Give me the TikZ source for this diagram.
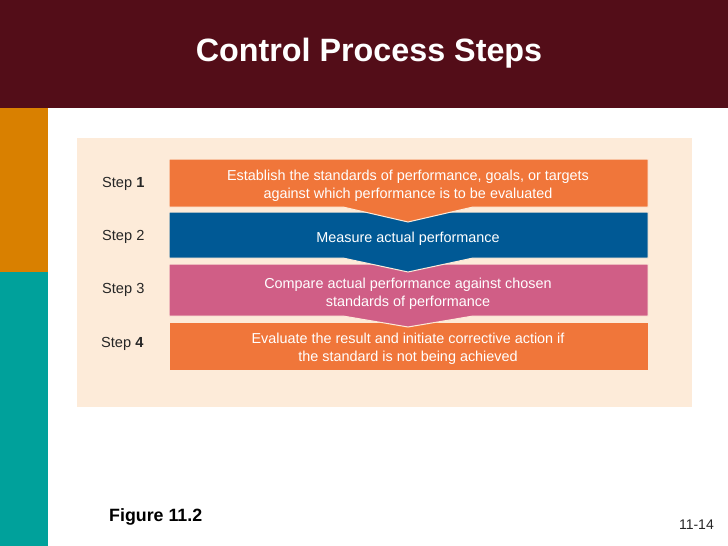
\documentclass[tikz,border=0pt]{standalone}
\usepackage{fontspec}
\setmainfont{Liberation Sans}
\definecolor{maroon}{HTML}{530D18}
\definecolor{sideorange}{HTML}{D98000}
\definecolor{sideteal}{HTML}{00A19B}
\definecolor{panel}{HTML}{FDEBD9}
\definecolor{barorange}{HTML}{F0763A}
\definecolor{barblue}{HTML}{005995}
\definecolor{barpink}{HTML}{D05E86}
\tikzset{
  barshape/.style={draw=panel, line width=1pt},
  bartext/.style={text=white, align=center, font=\fontsize{14.4}{18}\selectfont, inner sep=0pt},
  steplabel/.style={anchor=west, font=\fontsize{14.6}{17}\selectfont, inner sep=0pt, text=black!85}
}
\begin{document}
\begin{tikzpicture}[x=1pt,y=-1pt]
\useasboundingbox (0,0) rectangle (728,546);
\fill[white] (0,0) rectangle (728,546);
% header
\fill[maroon] (0,0) rectangle (728,108);
\node[text=white, font=\fontsize{32.3}{36}\selectfont\bfseries] (title) at (369,53) {Control Process Steps};
% side bars
\fill[sideorange] (0,108) rectangle (48,272);
\fill[sideteal] (0,272) rectangle (48,546);
% panel
\fill[panel] (77,138) rectangle (692,407);
% bars (bottom first)
\fill[barorange, barshape] (169,322) rectangle (648,370);
\filldraw[fill=barpink, barshape] (169,264) -- (648,264) -- (648,316) -- (473,316) -- (408,327) -- (343,316) -- (169,316) -- cycle;
\filldraw[fill=barblue, barshape] (169,212) -- (648,212) -- (648,258) -- (473,258) -- (408,272) -- (343,258) -- (169,258) -- cycle;
\filldraw[fill=barorange, barshape] (169,159) -- (648,159) -- (648,207) -- (473,207) -- (408,222) -- (343,207) -- (169,207) -- cycle;
% bar texts
\node[bartext] (b1) at (408,186) {Establish the standards of performance, goals, or targets\\against which performance is to be evaluated};
\node[bartext] (b2) at (408,239) {Measure actual performance};
\node[bartext] (b3) at (408,294) {Compare actual performance against chosen\\standards of performance};
\node[bartext] (b4) at (408,349) {Evaluate the result and initiate corrective action if\\the standard is not being achieved};
% step labels
\node[steplabel] (s1) at (102,184) {Step \textbf{1}};
\node[steplabel] (s2) at (102,237) {Step 2};
\node[steplabel] (s3) at (102,290) {Step 3};
\node[steplabel] (s4) at (101,344) {Step \textbf{4}};
% footer
\node[anchor=west, inner sep=0pt, font=\fontsize{17.8}{20}\selectfont\bfseries] (fig) at (109,517) {Figure 11.2};
\node[anchor=east, inner sep=0pt, font=\fontsize{14}{16}\selectfont, text=black!85] (pg) at (714,525) {11-14};
\end{tikzpicture}
\end{document}
